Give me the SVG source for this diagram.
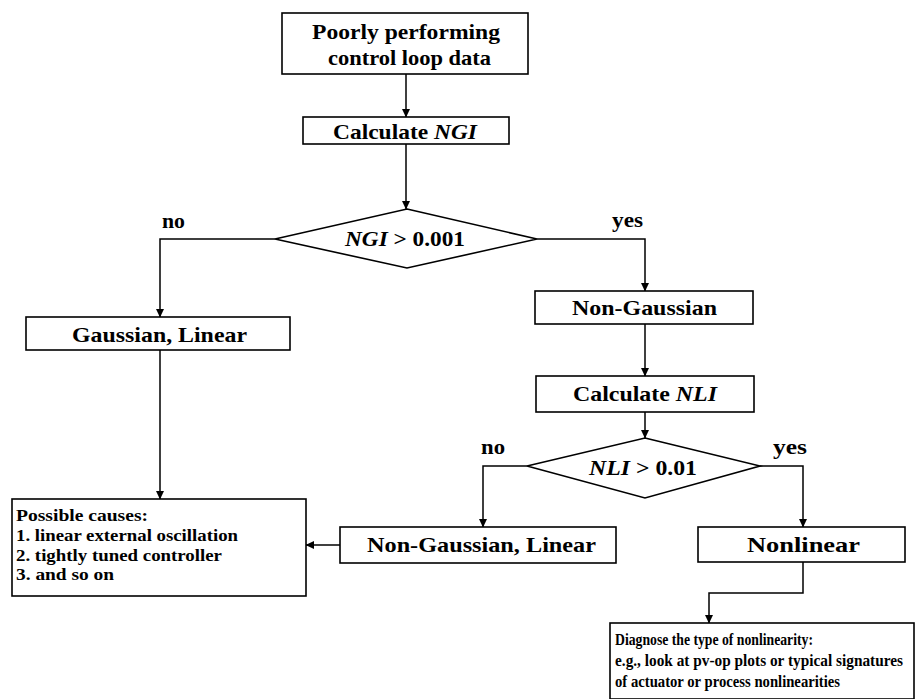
<svg xmlns="http://www.w3.org/2000/svg" width="915" height="699" viewBox="0 0 915 699">
<style>
.box{fill:#fff;stroke:#000;stroke-width:1.6}
.t{font-family:"Liberation Serif","Times New Roman",serif;font-weight:bold;font-size:21px;fill:#000}
.s{font-family:"Liberation Serif","Times New Roman",serif;font-weight:bold;font-size:16.5px;fill:#000}
.d{font-family:"Liberation Serif","Times New Roman",serif;font-weight:bold;font-size:15.8px;fill:#000}
.c{fill:none;stroke:#000;stroke-width:1.5}
</style>
<defs>
<marker id="ah" markerUnits="userSpaceOnUse" markerWidth="9" markerHeight="9" refX="8" refY="4.5" orient="auto">
<path d="M0,0.5 L8.5,4.5 L0,8.5 z" fill="#000"/>
</marker>
</defs>
<rect width="915" height="699" fill="#fff"/>
<g id="connectors">
<path class="c" d="M406,74 V117" marker-end="url(#ah)"/>
<path class="c" d="M406,144 V209" marker-end="url(#ah)"/>
<path class="c" d="M275,239 H160 V317" marker-end="url(#ah)"/>
<path class="c" d="M537,239 H645 V291" marker-end="url(#ah)"/>
<path class="c" d="M160,350 V499" marker-end="url(#ah)"/>
<path class="c" d="M645,324 V376" marker-end="url(#ah)"/>
<path class="c" d="M645,412 V438" marker-end="url(#ah)"/>
<path class="c" d="M527,466 H483 V527" marker-end="url(#ah)"/>
<path class="c" d="M760,466 H803 V527" marker-end="url(#ah)"/>
<path class="c" d="M340,545 H306" marker-end="url(#ah)"/>
<path class="c" d="M803,562 V593 H709 V623" marker-end="url(#ah)"/>
<text class="t" x="162" y="228" textLength="23" lengthAdjust="spacingAndGlyphs">no</text>
<text class="t" x="612" y="227" textLength="31" lengthAdjust="spacingAndGlyphs">yes</text>
<text class="t" x="481" y="454" textLength="24" lengthAdjust="spacingAndGlyphs">no</text>
<text class="t" x="773" y="454" textLength="34" lengthAdjust="spacingAndGlyphs">yes</text>
</g>
<g id="start">
<rect class="box" x="282" y="13" width="246" height="61"/>
<text class="t" x="312" y="39" textLength="188" lengthAdjust="spacingAndGlyphs">Poorly performing</text>
<text class="t" x="328" y="65" textLength="163" lengthAdjust="spacingAndGlyphs">control loop data</text>
</g>
<g id="calc-ngi">
<rect class="box" x="303" y="117" width="206" height="27"/>
<text class="t" x="333" y="139" textLength="144" lengthAdjust="spacingAndGlyphs">Calculate <tspan font-style="italic">NGI</tspan></text>
</g>
<g id="ngi-test">
<polygon class="box" points="407,209 537,239 407,268 275,239"/>
<text class="t" x="345" y="246" textLength="120" lengthAdjust="spacingAndGlyphs"><tspan font-style="italic">NGI</tspan> &gt; 0.001</text>
</g>
<g id="gaussian-linear">
<rect class="box" x="26" y="317" width="264" height="33"/>
<text class="t" x="72" y="342" textLength="175" lengthAdjust="spacingAndGlyphs">Gaussian, Linear</text>
</g>
<g id="possible-causes">
<rect class="box" x="12" y="499" width="294" height="97"/>
<text class="s" x="16" y="521" textLength="132" lengthAdjust="spacingAndGlyphs">Possible causes:</text>
<text class="s" x="16" y="541" textLength="222" lengthAdjust="spacingAndGlyphs">1. linear external oscillation</text>
<text class="s" x="16" y="561" textLength="206" lengthAdjust="spacingAndGlyphs">2. tightly tuned controller</text>
<text class="s" x="16" y="580" textLength="98" lengthAdjust="spacingAndGlyphs">3. and so on</text>
</g>
<g id="non-gaussian">
<rect class="box" x="535" y="291" width="218" height="33"/>
<text class="t" x="572" y="315" textLength="145" lengthAdjust="spacingAndGlyphs">Non-Gaussian</text>
</g>
<g id="calc-nli">
<rect class="box" x="536" y="376" width="218" height="36"/>
<text class="t" x="573" y="401" textLength="144" lengthAdjust="spacingAndGlyphs">Calculate <tspan font-style="italic">NLI</tspan></text>
</g>
<g id="nli-test">
<polygon class="box" points="645,438 760,466 645,498 527,466"/>
<text class="t" x="589" y="475" textLength="108" lengthAdjust="spacingAndGlyphs"><tspan font-style="italic">NLI</tspan> &gt; 0.01</text>
</g>
<g id="non-gaussian-linear">
<rect class="box" x="340" y="527" width="276" height="36"/>
<text class="t" x="367" y="552" textLength="229" lengthAdjust="spacingAndGlyphs">Non-Gaussian, Linear</text>
</g>
<g id="nonlinear">
<rect class="box" x="698" y="527" width="207" height="35"/>
<text class="t" x="747" y="552" textLength="113" lengthAdjust="spacingAndGlyphs">Nonlinear</text>
</g>
<g id="diagnose">
<rect class="box" x="610" y="623" width="304" height="76"/>
<text class="d" x="615" y="645" textLength="198" lengthAdjust="spacingAndGlyphs">Diagnose the type of nonlinearity:</text>
<text class="d" x="615" y="666" textLength="288" lengthAdjust="spacingAndGlyphs">e.g., look at pv-op plots or typical signatures</text>
<text class="d" x="615" y="687" textLength="225" lengthAdjust="spacingAndGlyphs">of actuator or process nonlinearities</text>
</g>
</svg>
